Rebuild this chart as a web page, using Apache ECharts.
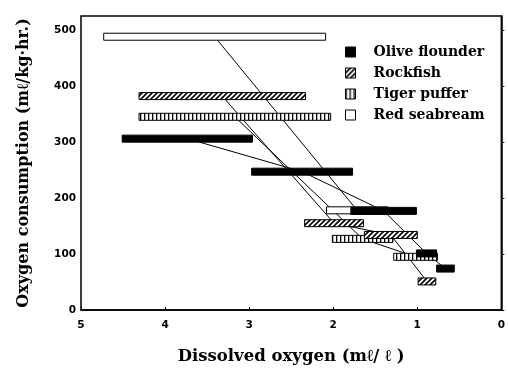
<!DOCTYPE html>
<html>
<head>
<meta charset="utf-8">
<title>Oxygen consumption</title>
<script src="https://cdn.jsdelivr.net/npm/echarts@6/dist/echarts.min.js"></script>
<style>
  html, body { margin: 0; padding: 0; background: #fff; }
  #main { width: 508px; height: 370px; }
</style>
</head>
<body>
<div id="main"></div>
<script>
// each bar: dissolved oxygen range (from -> to) at one oxygen consumption level
var oliveFrom = [4.51, 2.97, 1.79, 1.01, 0.77];
var oliveTo   = [2.96, 1.77, 1.01, 0.77, 0.56];
var oliveVO2  = [306, 247, 177, 101, 74];

var rockFrom = [4.31, 2.34, 1.63, 0.99];
var rockTo   = [2.33, 1.64, 1.00, 0.78];
var rockVO2  = [382, 155, 134, 51];

var tigerFrom = [4.31, 2.01, 1.28];
var tigerTo   = [2.03, 1.29, 0.76];
var tigerVO2  = [345, 127, 95];

var redFrom = [4.73, 2.08];
var redTo   = [2.09, 1.35];
var redVO2  = [488, 178];

var speciesNames = ['Olive flounder', 'Rockfish', 'Tiger puffer', 'Red seabream'];

// fill patterns
function makePattern(kind) {
  var c = document.createElement('canvas');
  var g;
  if (kind == 'diag') {
    c.width = 5; c.height = 5;
    g = c.getContext('2d');
    g.fillStyle = '#fff'; g.fillRect(0, 0, 5, 5);
    g.strokeStyle = '#000'; g.lineWidth = 1.6;
    g.beginPath();
    g.moveTo(-1, 6); g.lineTo(6, -1);
    g.moveTo(-1, 1); g.lineTo(1, -1);
    g.moveTo(4, 6); g.lineTo(6, 4);
    g.stroke();
  } else {
    c.width = 4; c.height = 8;
    g = c.getContext('2d');
    g.fillStyle = '#fff'; g.fillRect(0, 0, 4, 8);
    g.fillStyle = '#000'; g.fillRect(0, 0, 1.3, 8);
  }
  return { image: c, repeat: 'repeat' };
}

var fills = {
  'Olive flounder': '#000',
  'Rockfish': makePattern('diag'),
  'Tiger puffer': makePattern('vert'),
  'Red seabream': '#fff'
};

function bars(from, to, vo2) {
  var out = [];
  for (var i = 0; i < from.length; i++) out.push([from[i], to[i], vo2[i]]);
  return out;
}
function mids(from, to, vo2) {
  var out = [];
  for (var i = 0; i < from.length; i++) out.push([(from[i] + to[i]) / 2, vo2[i]]);
  return out;
}

function barSeries(name, data) {
  return {
    name: name,
    type: 'custom',
    z: 3,
    itemStyle: { color: fills[name], borderColor: '#000', borderWidth: 1 },
    data: data,
    renderItem: function (params, api) {
      var p1 = api.coord([api.value(0), api.value(2)]);
      var p2 = api.coord([api.value(1), api.value(2)]);
      return {
        type: 'rect',
        shape: { x: Math.min(p1[0], p2[0]), y: p1[1] - 3.5, width: Math.abs(p2[0] - p1[0]), height: 7 },
        style: { fill: fills[name], stroke: '#000', lineWidth: 1 }
      };
    }
  };
}

function lineSeries(name, data) {
  return {
    name: name + ' line',
    type: 'line',
    z: 1,
    symbol: 'none',
    silent: true,
    lineStyle: { color: '#000', width: 1 },
    data: data
  };
}

var titleFont = { fontFamily: 'DejaVu Serif', fontWeight: 'bold', fontSize: 16, color: '#000' };
var tickFont = { fontFamily: 'DejaVu Sans', fontWeight: 'bold', fontSize: 10.5, color: '#000' };

var chart = echarts.init(document.getElementById('main'));
chart.setOption({
  animation: false,
  backgroundColor: '#fff',
  grid: { left: 81, right: 6, top: 16, bottom: 57, show: true, borderColor: '#000', borderWidth: 1.5 },
  legend: {
    orient: 'vertical',
    left: 345,
    top: 45,
    itemWidth: 10,
    itemHeight: 10,
    itemGap: 7,
    padding: 0,
    icon: 'rect',
    textStyle: { fontFamily: 'DejaVu Serif', fontWeight: 'bold', fontSize: 14, color: '#000', padding: [0, 0, 0, 13] },
    data: speciesNames.map(function (n) {
      return { name: n, itemStyle: { color: fills[n], borderColor: '#000', borderWidth: 1 } };
    })
  },
  xAxis: {
    type: 'value',
    inverse: true,
    min: 0,
    max: 5,
    interval: 1,
    name: 'Dissolved oxygen (mℓ/ ℓ )',
    nameLocation: 'middle',
    nameGap: 38,
    nameTextStyle: Object.assign({}, titleFont, { fontSize: 16.5 }),
    axisLine: { lineStyle: { color: '#000', width: 1.5 } },
    axisTick: { inside: true, length: 3, lineStyle: { color: '#000' } },
    axisLabel: Object.assign({ margin: 10 }, tickFont),
    splitLine: { show: false }
  },
  yAxis: {
    type: 'value',
    min: 0,
    max: 525,
    interval: 100,
    name: 'Oxygen consumption (mℓ/kg·hr.)',
    nameLocation: 'middle',
    nameGap: 49,
    nameTextStyle: titleFont,
    axisLine: { lineStyle: { color: '#000', width: 1.5 } },
    axisTick: { inside: true, length: 3, lineStyle: { color: '#000' } },
    axisLabel: Object.assign({ margin: 5, showMaxLabel: false }, tickFont),
    splitLine: { show: false }
  },
  // drawing order: red seabream at the back, olive flounder in front
  series: [
    lineSeries('Olive flounder', mids(oliveFrom, oliveTo, oliveVO2)),
    lineSeries('Rockfish', mids(rockFrom, rockTo, rockVO2)),
    lineSeries('Tiger puffer', mids(tigerFrom, tigerTo, tigerVO2)),
    lineSeries('Red seabream', mids(redFrom, redTo, redVO2)),
    barSeries('Red seabream', bars(redFrom, redTo, redVO2)),
    barSeries('Tiger puffer', bars(tigerFrom, tigerTo, tigerVO2)),
    barSeries('Rockfish', bars(rockFrom, rockTo, rockVO2)),
    barSeries('Olive flounder', bars(oliveFrom, oliveTo, oliveVO2))
  ]
});
</script>
</body>
</html>
